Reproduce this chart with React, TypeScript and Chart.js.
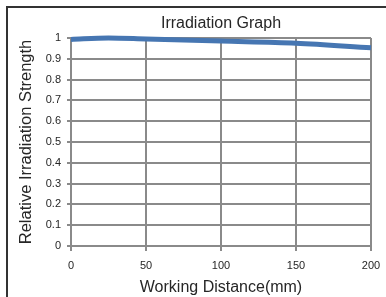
import React, { useEffect, useRef } from "react";
import { Chart, registerables } from "chart.js";

Chart.register(...registerables);

const distances = [0, 25, 50, 100, 150, 200];
const strengths = [0.993, 1.0, 0.995, 0.985, 0.975, 0.953];
const titleText = "Irradiation Graph";
const xTitle = "Working Distance(mm)";
const yTitle = "Relative Irradiation Strength";

const FONT = "'Liberation Sans', Arial, sans-serif";
const TEXT = "#262626";
const GRID = "#8a8a8a";

const framePlugin = {
  id: "frame",
  beforeDraw(chart: any) {
    const { ctx } = chart;
    ctx.save();
    ctx.fillStyle = "#ffffff";
    ctx.fillRect(0, 0, chart.width, chart.height);
    ctx.strokeStyle = "#333333";
    ctx.lineWidth = 2;
    ctx.strokeRect(7, 7, chart.width + 10, chart.height + 10);
    ctx.restore();
  },
  afterDraw(chart: any) {
    const { ctx, chartArea } = chart;
    ctx.save();
    ctx.fillStyle = TEXT;
    ctx.font = `16px ${FONT}`;
    ctx.textAlign = "center";
    ctx.textBaseline = "middle";
    ctx.fillText(titleText, (chartArea.left + chartArea.right) / 2, 24);
    ctx.restore();
  },
};

export default function App() {
  const ref = useRef<HTMLCanvasElement>(null);
  useEffect(() => {
    document.body.style.margin = "0";
    const chart = new Chart(ref.current!, {
      type: "line",
      data: {
        datasets: [
          {
            data: distances.map((x, i) => ({ x, y: strengths[i] })),
            borderColor: "#4676b2",
            borderWidth: 5,
            pointRadius: 0,
            cubicInterpolationMode: "monotone",
            clip: false as any,
          },
        ],
      },
      options: {
        animation: false,
        responsive: false,
        events: [],
        layout: { padding: { top: 38, right: 15, left: 0, bottom: 0 } },
        plugins: { legend: { display: false }, tooltip: { enabled: false } },
        scales: {
          x: {
            type: "linear",
            min: 0,
            max: 200,
            ticks: { stepSize: 50, color: TEXT, font: { family: FONT, size: 11 }, padding: 8 },
            grid: { color: GRID, lineWidth: 2, tickLength: 5 },
            border: { color: GRID, width: 2 },
            title: { display: true, text: xTitle, color: TEXT, font: { family: FONT, size: 16 }, padding: { top: 0, bottom: 0 } },
            afterFit(scale: any) {
              scale.height = 51;
              scale.paddingLeft = 0;
              scale.paddingRight = 0;
            },
          },
          y: {
            type: "linear",
            min: 0,
            max: 1,
            ticks: {
              stepSize: 0.1,
              color: TEXT,
              font: { family: FONT, size: 11 },
              padding: 6,
              callback: (v: any) => String(Math.round(Number(v) * 10) / 10),
            },
            grid: { color: GRID, lineWidth: 2, tickLength: 4 },
            border: { color: GRID, width: 2 },
            title: { display: true, text: yTitle, color: TEXT, font: { family: FONT, size: 16.5 }, padding: { top: 17, bottom: 0 } },
            afterFit(scale: any) {
              scale.width = 71;
            },
          },
        },
      },
      plugins: [framePlugin],
    });
    return () => chart.destroy();
  }, []);
  return (
    <canvas ref={ref} width={386} height={297} style={{ display: "block", width: 386, height: 297 }} />
  );
}
